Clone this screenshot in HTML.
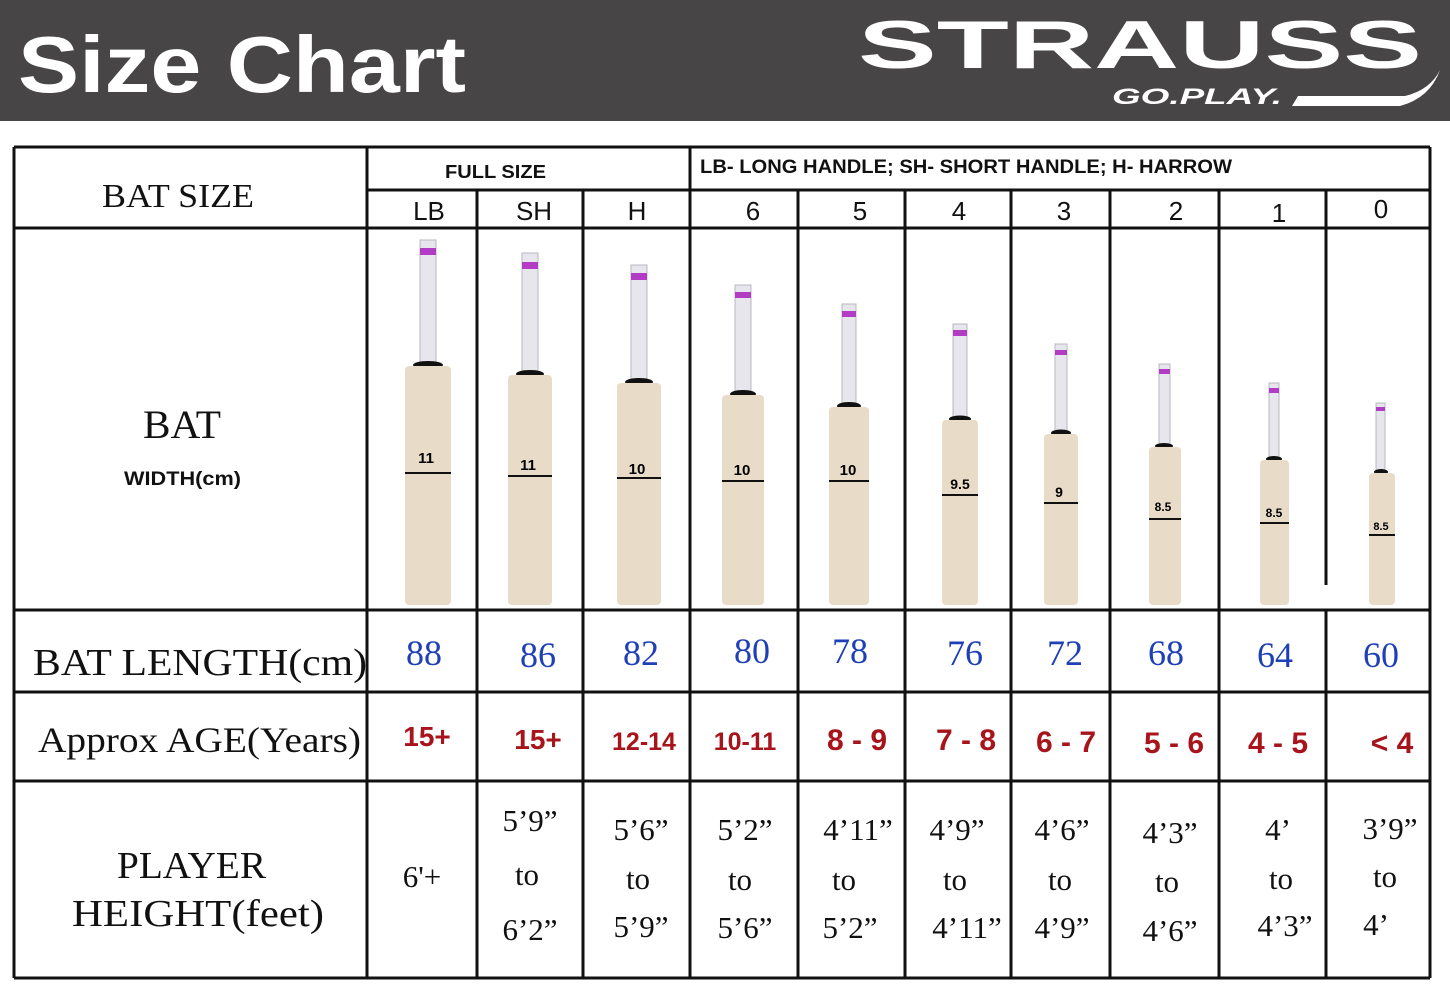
<!DOCTYPE html>
<html><head><meta charset="utf-8"><style>
html,body{margin:0;padding:0;background:#fff;}
svg{display:block;}
.ser{font-family:"Liberation Serif",serif;}
.san{font-family:"Liberation Sans",sans-serif;}
</style></head><body>
<svg width="1450" height="1000" viewBox="0 0 1450 1000" xmlns="http://www.w3.org/2000/svg">
<rect x="0" y="0" width="1450" height="1000" fill="#fff"/>
<rect x="0" y="0" width="1450" height="121" fill="#474545"/>
<text x="18" y="92" class="san" font-size="80" font-weight="bold" fill="#fff" textLength="448" lengthAdjust="spacingAndGlyphs">Size Chart</text>
<text x="858" y="68" class="san" font-size="68" font-weight="bold" fill="#fff" textLength="564" lengthAdjust="spacingAndGlyphs">STRAUSS</text>
<text x="1112" y="104" class="san" font-size="22" font-weight="bold" font-style="italic" fill="#fff" textLength="170" lengthAdjust="spacingAndGlyphs">GO.PLAY.</text>
<path d="M1292 106 L1400 106 Q1430 98 1440 70 Q1430 90 1405 96 L1298 96 Z" fill="#fff"/>

<g stroke="#111" stroke-width="3" fill="none">
<line x1="14" y1="147" x2="1430" y2="147"/>
<line x1="367" y1="190" x2="1430" y2="190"/>
<line x1="14" y1="228" x2="1430" y2="228"/>
<line x1="14" y1="610" x2="1430" y2="610"/>
<line x1="14" y1="692" x2="1430" y2="692"/>
<line x1="14" y1="781" x2="1430" y2="781"/>
<line x1="14" y1="978" x2="1430" y2="978"/>
<line x1="14" y1="147" x2="14" y2="978"/>
<line x1="367" y1="147" x2="367" y2="978"/>
<line x1="690" y1="147" x2="690" y2="978"/>
<line x1="1430" y1="147" x2="1430" y2="978"/>
<line x1="477" y1="190" x2="477" y2="978"/>
<line x1="583" y1="190" x2="583" y2="978"/>
<line x1="798" y1="190" x2="798" y2="978"/>
<line x1="905" y1="190" x2="905" y2="978"/>
<line x1="1011" y1="190" x2="1011" y2="978"/>
<line x1="1110" y1="190" x2="1110" y2="978"/>
<line x1="1219" y1="190" x2="1219" y2="978"/>
<line x1="1326" y1="190" x2="1326" y2="585"/>
<line x1="1326" y1="610" x2="1326" y2="978"/>
</g>

<text x="102" y="207" class="ser" font-size="34" fill="#111" textLength="152" lengthAdjust="spacingAndGlyphs">BAT SIZE</text>
<text x="445" y="178" class="san" font-size="18" font-weight="bold" fill="#111" textLength="101" lengthAdjust="spacingAndGlyphs">FULL SIZE</text>
<text x="700" y="173" class="san" font-size="19" font-weight="bold" fill="#111" textLength="532" lengthAdjust="spacingAndGlyphs">LB- LONG HANDLE; SH- SHORT HANDLE; H- HARROW</text>
<g class="san" font-size="26" fill="#111" text-anchor="middle">
<text x="429" y="220">LB</text><text x="534" y="220">SH</text><text x="637" y="220">H</text>
<text x="753" y="220">6</text><text x="860" y="220">5</text><text x="959" y="220">4</text>
<text x="1064" y="220">3</text><text x="1176" y="220">2</text><text x="1279" y="222">1</text><text x="1381" y="218">0</text>
</g>

<text x="143" y="438" class="ser" font-size="40" fill="#111" textLength="78" lengthAdjust="spacingAndGlyphs">BAT</text>
<text x="124" y="485" class="san" font-size="19" font-weight="bold" fill="#111" textLength="117" lengthAdjust="spacingAndGlyphs">WIDTH(cm)</text>

<!-- bats -->
<g>
<!-- c,t,b,w,hw,m -->
<rect x="420" y="240" width="16" height="126" fill="#e6e6ec" stroke="#b8b8c0"/><rect x="420" y="248" width="16" height="7" fill="#b23cc4"/><ellipse cx="428" cy="365" rx="15" ry="4" fill="#111"/><rect x="405" y="366" width="46" height="239" rx="4" fill="#e8dcc8"/><line x1="405" y1="473" x2="451" y2="473" stroke="#111" stroke-width="2"/><text x="426" y="463" class="san" font-size="15" font-weight="bold" text-anchor="middle">11</text>

<rect x="522" y="253" width="16" height="122" fill="#e6e6ec" stroke="#b8b8c0"/><rect x="522" y="262" width="16" height="7" fill="#b23cc4"/><ellipse cx="530" cy="374" rx="14" ry="4" fill="#111"/><rect x="508" y="375" width="44" height="230" rx="4" fill="#e8dcc8"/><line x1="508" y1="476" x2="552" y2="476" stroke="#111" stroke-width="2"/><text x="528" y="470" class="san" font-size="15" font-weight="bold" text-anchor="middle">11</text>

<rect x="631" y="265" width="16" height="118" fill="#e6e6ec" stroke="#b8b8c0"/><rect x="631" y="273" width="16" height="7" fill="#b23cc4"/><ellipse cx="639" cy="382" rx="14" ry="4" fill="#111"/><rect x="617" y="383" width="44" height="222" rx="4" fill="#e8dcc8"/><line x1="617" y1="478" x2="661" y2="478" stroke="#111" stroke-width="2"/><text x="637" y="474" class="san" font-size="15" font-weight="bold" text-anchor="middle">10</text>

<rect x="735" y="285" width="16" height="110" fill="#e6e6ec" stroke="#b8b8c0"/><rect x="735" y="292" width="16" height="6" fill="#b23cc4"/><ellipse cx="743" cy="394" rx="13" ry="4" fill="#111"/><rect x="722" y="395" width="42" height="210" rx="4" fill="#e8dcc8"/><line x1="722" y1="481" x2="764" y2="481" stroke="#111" stroke-width="2"/><text x="742" y="475" class="san" font-size="15" font-weight="bold" text-anchor="middle">10</text>

<rect x="842" y="304" width="14" height="103" fill="#e6e6ec" stroke="#b8b8c0"/><rect x="842" y="311" width="14" height="6" fill="#b23cc4"/><ellipse cx="849" cy="406" rx="12" ry="4" fill="#111"/><rect x="829" y="407" width="40" height="198" rx="4" fill="#e8dcc8"/><line x1="829" y1="481" x2="869" y2="481" stroke="#111" stroke-width="2"/><text x="848" y="475" class="san" font-size="15" font-weight="bold" text-anchor="middle">10</text>

<rect x="953" y="324" width="14" height="96" fill="#e6e6ec" stroke="#b8b8c0"/><rect x="953" y="330" width="14" height="6" fill="#b23cc4"/><ellipse cx="960" cy="419" rx="11" ry="3.5" fill="#111"/><rect x="942" y="420" width="36" height="185" rx="4" fill="#e8dcc8"/><line x1="942" y1="495" x2="978" y2="495" stroke="#111" stroke-width="2"/><text x="960" y="489" class="san" font-size="14" font-weight="bold" text-anchor="middle">9.5</text>

<rect x="1055" y="344" width="12" height="90" fill="#e6e6ec" stroke="#b8b8c0"/><rect x="1055" y="350" width="12" height="5" fill="#b23cc4"/><ellipse cx="1061" cy="433" rx="10" ry="3.5" fill="#111"/><rect x="1044" y="434" width="34" height="171" rx="4" fill="#e8dcc8"/><line x1="1044" y1="503" x2="1078" y2="503" stroke="#111" stroke-width="2"/><text x="1059" y="497" class="san" font-size="14" font-weight="bold" text-anchor="middle">9</text>

<rect x="1159" y="364" width="11" height="83" fill="#e6e6ec" stroke="#b8b8c0"/><rect x="1159" y="369" width="11" height="5" fill="#b23cc4"/><ellipse cx="1164" cy="446" rx="9" ry="3" fill="#111"/><rect x="1149" y="447" width="32" height="158" rx="4" fill="#e8dcc8"/><line x1="1149" y1="519" x2="1181" y2="519" stroke="#111" stroke-width="2"/><text x="1163" y="511" class="san" font-size="12" font-weight="bold" text-anchor="middle">8.5</text>

<rect x="1269" y="383" width="10" height="77" fill="#e6e6ec" stroke="#b8b8c0"/><rect x="1269" y="388" width="10" height="5" fill="#b23cc4"/><ellipse cx="1274" cy="459" rx="8" ry="3" fill="#111"/><rect x="1260" y="460" width="29" height="145" rx="4" fill="#e8dcc8"/><line x1="1260" y1="523" x2="1289" y2="523" stroke="#111" stroke-width="2"/><text x="1274" y="517" class="san" font-size="12" font-weight="bold" text-anchor="middle">8.5</text>

<rect x="1376" y="403" width="9" height="70" fill="#e6e6ec" stroke="#b8b8c0"/><rect x="1376" y="407" width="9" height="4" fill="#b23cc4"/><ellipse cx="1381" cy="472" rx="7" ry="3" fill="#111"/><rect x="1369" y="473" width="26" height="132" rx="4" fill="#e8dcc8"/><line x1="1369" y1="535" x2="1395" y2="535" stroke="#111" stroke-width="2"/><text x="1381" y="530" class="san" font-size="11" font-weight="bold" text-anchor="middle">8.5</text>
</g>

<text x="33" y="675" class="ser" font-size="38" fill="#111" textLength="334" lengthAdjust="spacingAndGlyphs">BAT LENGTH(cm)</text>
<g class="ser" font-size="36" fill="#1f3fb8" text-anchor="middle">
<text x="424" y="665">88</text><text x="538" y="667">86</text><text x="641" y="665">82</text>
<text x="752" y="663">80</text><text x="850" y="663">78</text><text x="965" y="665">76</text>
<text x="1065" y="665">72</text><text x="1166" y="665">68</text><text x="1275" y="667">64</text><text x="1381" y="667">60</text>
</g>

<text x="38" y="752" class="ser" font-size="36" fill="#111" textLength="323" lengthAdjust="spacingAndGlyphs">Approx AGE(Years)</text>
<g class="san" font-weight="bold" fill="#a8141c" text-anchor="middle">
<text x="427" y="746" font-size="28">15+</text><text x="538" y="749" font-size="28">15+</text>
<text x="644" y="750" font-size="25">12-14</text><text x="745" y="750" font-size="25">10-11</text>
<text x="857" y="750" font-size="30">8 - 9</text><text x="966" y="750" font-size="30">7 - 8</text>
<text x="1066" y="752" font-size="30">6 - 7</text><text x="1174" y="753" font-size="30">5 - 6</text>
<text x="1278" y="753" font-size="30">4 - 5</text><text x="1392" y="753" font-size="30">&lt; 4</text>
</g>

<text x="117" y="878" class="ser" font-size="38" fill="#111" textLength="149" lengthAdjust="spacingAndGlyphs">PLAYER</text>
<text x="72" y="926" class="ser" font-size="38" fill="#111" textLength="252" lengthAdjust="spacingAndGlyphs">HEIGHT(feet)</text>
<g class="ser" font-size="31" fill="#111" text-anchor="middle">
<text x="422" y="887">6'+</text>
<text x="530" y="831">5’9”</text><text x="527" y="885">to</text><text x="530" y="940">6’2”</text>
<text x="641" y="840">5’6”</text><text x="638" y="889">to</text><text x="641" y="937">5’9”</text>
<text x="745" y="840">5’2”</text><text x="740" y="890">to</text><text x="745" y="938">5’6”</text>
<text x="858" y="840">4’11”</text><text x="844" y="890">to</text><text x="850" y="938">5’2”</text>
<text x="957" y="840">4’9”</text><text x="955" y="890">to</text><text x="967" y="938">4’11”</text>
<text x="1062" y="840">4’6”</text><text x="1060" y="890">to</text><text x="1062" y="938">4’9”</text>
<text x="1170" y="843">4’3”</text><text x="1167" y="892">to</text><text x="1170" y="941">4’6”</text>
<text x="1278" y="840">4’</text><text x="1281" y="889">to</text><text x="1285" y="936">4’3”</text>
<text x="1390" y="839">3’9”</text><text x="1385" y="887">to</text><text x="1376" y="935">4’</text>
</g>
</svg>
</body></html>
